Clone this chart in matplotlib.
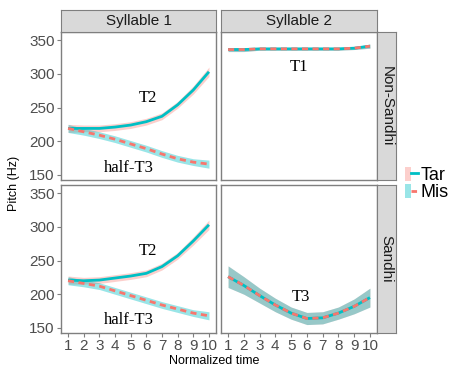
import numpy as np
import matplotlib.pyplot as plt
from matplotlib.patches import Patch
from matplotlib.lines import Line2D
from matplotlib.legend_handler import HandlerTuple

time = np.arange(1, 11)

# Syllable 1 (Tar = T2, Mis = half-T3)
s1_ns_tar = [219, 219, 219, 221, 224, 229, 237, 254, 276, 303]
s1_ns_mis = [219, 214, 209, 203, 196, 189, 181, 174, 169, 166]
s1_s_tar = [221, 220, 221, 224, 227, 231, 241, 257, 279, 303]
s1_s_mis = [220, 216, 212, 205, 198, 191, 184, 178, 172, 168]
s1_tar_ci = [6, 5, 5, 5, 5, 5, 5, 5, 6, 7]
s1_mis_ci = [6, 5, 5, 5, 5, 5, 5, 5, 5, 6]

# Syllable 2 (T1 non-sandhi, T3 sandhi)
s2_ns_tar = [336, 336, 337, 337, 337, 337, 337, 337, 338, 341]
s2_ns_mis = [336, 336, 337, 337, 337, 337, 337, 337, 338, 341]
s2_ns_ci = [3, 3, 2, 2, 2, 2, 2, 2, 2, 3]
s2_s_tar = [226, 213, 198, 184, 172, 164, 165, 172, 182, 195]
s2_s_mis = [226, 213, 198, 184, 172, 164, 165, 172, 182, 195]
s2_s_ci = [16, 13, 11, 10, 9, 9, 9, 9, 11, 14]

tones = {
    (0, 0): [("T2", 6.1, 264), ("half-T3", 4.9, 160)],
    (0, 1): [("T1", 5.5, 310)],
    (1, 0): [("T2", 6.1, 264), ("half-T3", 4.9, 162)],
    (1, 1): [("T3", 5.6, 196)],
}

panels = {
    (0, 0): (s1_ns_tar, s1_tar_ci, s1_ns_mis, s1_mis_ci),
    (0, 1): (s2_ns_tar, s2_ns_ci, s2_ns_mis, s2_ns_ci),
    (1, 0): (s1_s_tar, s1_tar_ci, s1_s_mis, s1_mis_ci),
    (1, 1): (s2_s_tar, s2_s_ci, s2_s_mis, s2_s_ci),
}

col_titles = ["Syllable 1", "Syllable 2"]
row_titles = ["Non-Sandhi", "Sandhi"]

pink = "#F8766D"
teal = "#00BFC4"
grey_txt = "#4D4D4D"
border = "#7F7F7F"

W, H = 458, 367
fig = plt.figure(figsize=(W / 100, H / 100), dpi=100)
plt.rcParams['font.family'] = ['Liberation Sans', 'DejaVu Sans']

def box(x0, y0, x1, y1):
    return [x0 / W, 1 - y1 / H, (x1 - x0) / W, (y1 - y0) / H]

col_x = [(61, 216), (221, 377)]
row_y = [(32, 180), (185, 333)]

for (r, c), (tar, tar_ci, mis, mis_ci) in panels.items():
    ax = fig.add_axes(box(col_x[c][0], row_y[r][0], col_x[c][1], row_y[r][1]))
    tar = np.array(tar); mis = np.array(mis)
    tar_ci = np.array(tar_ci); mis_ci = np.array(mis_ci)
    ax.fill_between(time, tar - tar_ci, tar + tar_ci, color=pink, alpha=0.35, lw=0)
    ax.fill_between(time, mis - mis_ci, mis + mis_ci, color=teal, alpha=0.4, lw=0)
    ax.plot(time, tar, color=teal, lw=2.0, solid_capstyle='butt')
    ax.plot(time, mis, color=pink, lw=2.0, ls=(0, (2.2, 1.6)))
    for label, tx, ty in tones[(r, c)]:
        ax.text(tx, ty, label, family='Liberation Serif', fontsize=12,
                ha='center', va='center', color='black')
    ax.set_xlim(0.55, 10.45)
    ax.set_ylim(142.5, 362)
    ax.set_xticks(time)
    ax.set_yticks([150, 200, 250, 300, 350])
    for s in ax.spines.values():
        s.set_color(border)
        s.set_linewidth(1.0)
    ax.tick_params(colors=border, labelcolor=grey_txt, labelsize=11,
                   length=3, width=0.8, pad=1.5)
    if c == 1:
        ax.tick_params(axis='y', left=False, labelleft=False)
    if r == 0:
        ax.tick_params(axis='x', bottom=False, labelbottom=False)

# strips
for c, title in enumerate(col_titles):
    sx = fig.add_axes(box(col_x[c][0], 10, col_x[c][1], 32))
    sx.set_facecolor("#D9D9D9")
    sx.set_xticks([]); sx.set_yticks([])
    for s in sx.spines.values():
        s.set_color(border)
    sx.text(0.5, 0.5, title, ha='center', va='center', fontsize=11,
            color='#1A1A1A', transform=sx.transAxes)

for r, title in enumerate(row_titles):
    sy = fig.add_axes(box(377, row_y[r][0], 396, row_y[r][1]))
    sy.set_facecolor("#D9D9D9")
    sy.set_xticks([]); sy.set_yticks([])
    for s in sy.spines.values():
        s.set_color(border)
    sy.text(0.5, 0.5, title, ha='center', va='center', fontsize=11,
            color='#1A1A1A', rotation=-90, transform=sy.transAxes)

fig.text(214 / W, 1 - 361 / H, "Normalized time", ha='center', va='center',
         fontsize=9, color='black')
fig.text(14 / W, 1 - 183 / H, "Pitch (Hz)", ha='center', va='center',
         fontsize=9, color='black', rotation=90)

handles = [
    (Patch(facecolor=pink, alpha=0.35, lw=0), Line2D([], [], color=teal, lw=2)),
    (Patch(facecolor=teal, alpha=0.4, lw=0), Line2D([], [], color=pink, lw=2, ls=(0, (2, 1.5)))),
]
fig.legend(handles, ["Tar", "Mis"], loc='center left',
           bbox_to_anchor=(405 / W, 1 - 184 / H),
           handler_map={tuple: HandlerTuple(ndivide=None)},
           frameon=False, fontsize=13, handlelength=0.7, handleheight=0.85,
           handletextpad=0.15, labelspacing=0.0, borderpad=0,
           borderaxespad=0)

fig.savefig("out.png", dpi=100)
